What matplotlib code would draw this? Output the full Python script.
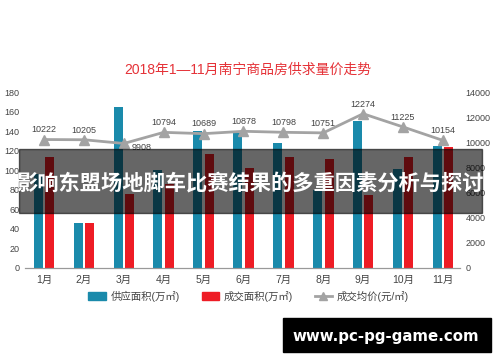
import matplotlib
matplotlib.use("Agg")
import matplotlib.pyplot as plt
from matplotlib.patches import Patch, Rectangle
from matplotlib.lines import Line2D
import numpy as np

plt.rcParams['font.family'] = ['Liberation Sans', 'Noto Sans CJK SC']

# data
months = ["1月", "2月", "3月", "4月", "5月", "6月", "7月", "8月", "9月", "10月", "11月"]
supply = [96, 46, 165, 100, 140, 138, 128, 80, 150, 101, 125]
sold = [114, 46, 76, 86, 117, 102, 114, 112, 75, 114, 124]
price = [10222, 10205, 9908, 10794, 10689, 10878, 10798, 10751, 12274, 11225, 10154]

BLUE = "#1a8aab"
RED = "#ee1c25"
GRAY = "#a3a3a3"
TXT = "#444444"

fig = plt.figure(figsize=(5, 3.62), dpi=100)
ax = fig.add_axes([0.05, 0.2597, 0.87, 0.486])
ax2 = ax.twinx()

x = np.arange(len(months))
w = 0.225
ax.bar(x - 0.145, supply, w, color=BLUE)
ax.bar(x + 0.145, sold, w, color=RED)

ax.set_xlim(-0.48, 10.43)
ax.set_ylim(0, 180)
ax.set_yticks(range(0, 181, 20))
ax.set_xticks(x)
ax.set_xticklabels(months)

ax2.plot(x, price, color=GRAY, lw=2, marker="^", markersize=7, zorder=3)
ax2.set_ylim(0, 14000)
ax2.set_yticks(range(0, 14001, 2000))

for i, p in enumerate(price):
    if i == 2:
        ax2.annotate(str(p), (i, p), xytext=(13, -3), textcoords="offset points",
                     ha="center", va="center", fontsize=6.5, color=TXT)
    else:
        ax2.annotate(str(p), (i, p), xytext=(0, 7), textcoords="offset points",
                     ha="center", va="center", fontsize=6.5, color=TXT)

for a in (ax, ax2):
    for s in ("top", "left", "right"):
        a.spines[s].set_visible(False)
    a.spines["bottom"].set_color("#999999")
    a.tick_params(axis="both", length=0, labelsize=6.5, labelcolor=TXT)
ax.tick_params(axis="y", pad=4)
ax2.tick_params(axis="y", pad=4)
ax.tick_params(axis="x", pad=5, labelsize=7.5)

fig.text(0.496, 1 - 70 / 362, "2018年1—11月南宁商品房供求量价走势",
         color="#e53238", fontsize=10, ha="center", va="center")

handles = [Patch(color=BLUE), Patch(color=RED),
           Line2D([], [], color=GRAY, lw=2, marker="^", markersize=6)]
labels = ["供应面积(万㎡)", "成交面积(万㎡)", "成交均价(元/㎡)"]
fig.legend(handles, labels, loc="center", bbox_to_anchor=(0.497, 1 - 296 / 362),
           ncol=3, frameon=False, fontsize=7.5, handlelength=1.7, handleheight=0.8,
           columnspacing=2.1, handletextpad=0.4, labelcolor=TXT)

# overlay banner
fig.patches.append(Rectangle((19 / 500, 1 - 213 / 362), 463 / 500, 64 / 362,
                             transform=fig.transFigure, color="black", alpha=0.6,
                             zorder=10))
fig.text(0.5, 1 - 183 / 362, "影响东盟场地脚车比赛结果的多重因素分析与探讨",
         color="white", fontsize=15.3, fontweight="bold", ha="center", va="center",
         family=["Noto Sans CJK SC"], zorder=11)

# watermark box
fig.patches.append(Rectangle((283 / 500, 1 - 352 / 362), 208 / 500, 34 / 362,
                             transform=fig.transFigure, color="black", zorder=10))
fig.text(386 / 500, 1 - 336 / 362, "www.pc-pg-game.com", color="white",
         fontsize=10.8, fontweight="bold", ha="center", va="center",
         family=["DejaVu Sans"], zorder=11)

fig.savefig("out.png", dpi=100)
